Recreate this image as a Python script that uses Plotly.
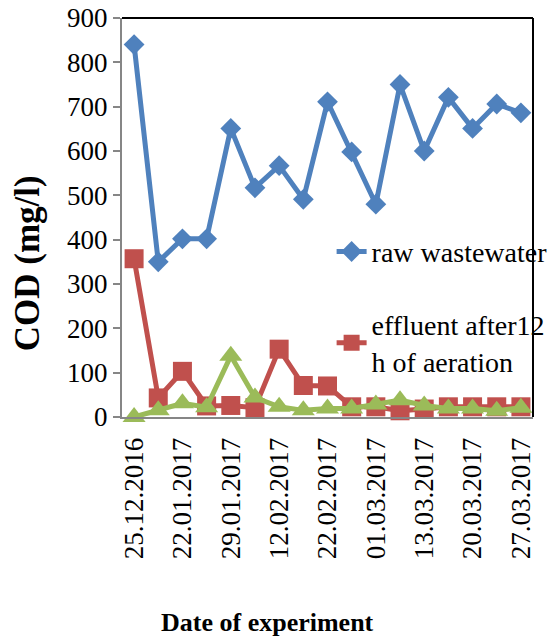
import plotly.graph_objects as go

# Sampling dates (17 samples; every other one is labelled on the axis)
n_samples = 17
tick_index = [0, 2, 4, 6, 8, 10, 12, 14, 16]
tick_dates = ["25.12.2016", "22.01.2017", "29.01.2017", "12.02.2017", "22.02.2017",
              "01.03.2017", "13.03.2017", "20.03.2017", "27.03.2017"]

# COD values in mg/l
raw_wastewater = [840, 350, 402, 402, 651, 517, 567, 491, 711, 598, 480, 750, 600, 721, 651, 706, 686]
effluent_12h = [357, 43, 103, 25, 26, 21, 153, 71, 70, 23, 23, 14, 18, 23, 23, 23, 23]
effluent_other = [0, 15, 31, 22, 138, 44, 23, 15, 19, 19, 28, 38, 26, 19, 19, 14, 21]

x = list(range(n_samples))

FONT = "Liberation Serif"
BLUE = "#4F81BD"
RED = "#C0504D"
GREEN = "#9BBB59"

fig = go.Figure()
fig.add_trace(go.Scatter(
    x=x, y=raw_wastewater, mode="lines+markers", name="raw wastewater",
    line=dict(color=BLUE, width=5),
    marker=dict(symbol="diamond", size=16, color=BLUE),
    cliponaxis=False, legend="legend",
))
fig.add_trace(go.Scatter(
    x=x, y=effluent_12h, mode="lines+markers", name="effluent after12<br>h of aeration",
    line=dict(color=RED, width=5),
    marker=dict(symbol="square", size=19, color=RED),
    cliponaxis=False, legend="legend2",
))
fig.add_trace(go.Scatter(
    x=x, y=effluent_other, mode="lines+markers", name="effluent",
    line=dict(color=GREEN, width=5),
    marker=dict(symbol="triangle-up", size=20, color=GREEN),
    cliponaxis=False, showlegend=False,
))

fig.update_layout(
    width=556, height=638,
    margin=dict(l=122, r=23, t=18, b=221, autoexpand=False),
    paper_bgcolor="white", plot_bgcolor="white",
    font=dict(family=FONT, size=27, color="black"),
    legend=dict(x=0.51, y=0.414, xanchor="left", yanchor="middle",
                bgcolor="rgba(0,0,0,0)", font=dict(family=FONT, size=28)),
    legend2=dict(x=0.51, y=0.186, xanchor="left", yanchor="middle",
                 bgcolor="rgba(0,0,0,0)", font=dict(family=FONT, size=28)),
    xaxis=dict(
        range=[-0.5, n_samples - 0.5], automargin=False,
        tickmode="array", tickvals=tick_index, ticktext=tick_dates,
        tickangle=-90, tickfont=dict(family=FONT, size=27),
        showgrid=False, zeroline=False,
        showline=True, linecolor="#868686", linewidth=2,
        ticks="", ticklabelstandoff=8,
    ),
    yaxis=dict(
        range=[0, 900], tickmode="linear", tick0=0, dtick=100, automargin=False,
        tickfont=dict(family=FONT, size=27),
        showgrid=False, zeroline=False,
        showline=True, linecolor="#868686", linewidth=2,
        ticks="outside", ticklen=7, tickcolor="#868686", tickwidth=2,
    ),
    annotations=[
        dict(text="<b>COD (mg/l)</b>", xref="paper", yref="paper",
             x=-0.229, y=0.385, xanchor="center", yanchor="middle",
             textangle=-90, showarrow=False, font=dict(family=FONT, size=35)),
        dict(text="<b>Date of experiment</b>", xref="paper", yref="paper",
             x=0.353, y=-0.514, xanchor="center", yanchor="middle",
             showarrow=False, font=dict(family=FONT, size=26)),
    ],
    shapes=[
        dict(type="line", xref="paper", yref="paper", x0=0, x1=1, y0=1, y1=1,
             line=dict(color="black", width=2)),
        dict(type="line", xref="paper", yref="paper", x0=1, x1=1, y0=0, y1=1,
             line=dict(color="black", width=2)),
    ],
)

fig.write_html("out.html")
